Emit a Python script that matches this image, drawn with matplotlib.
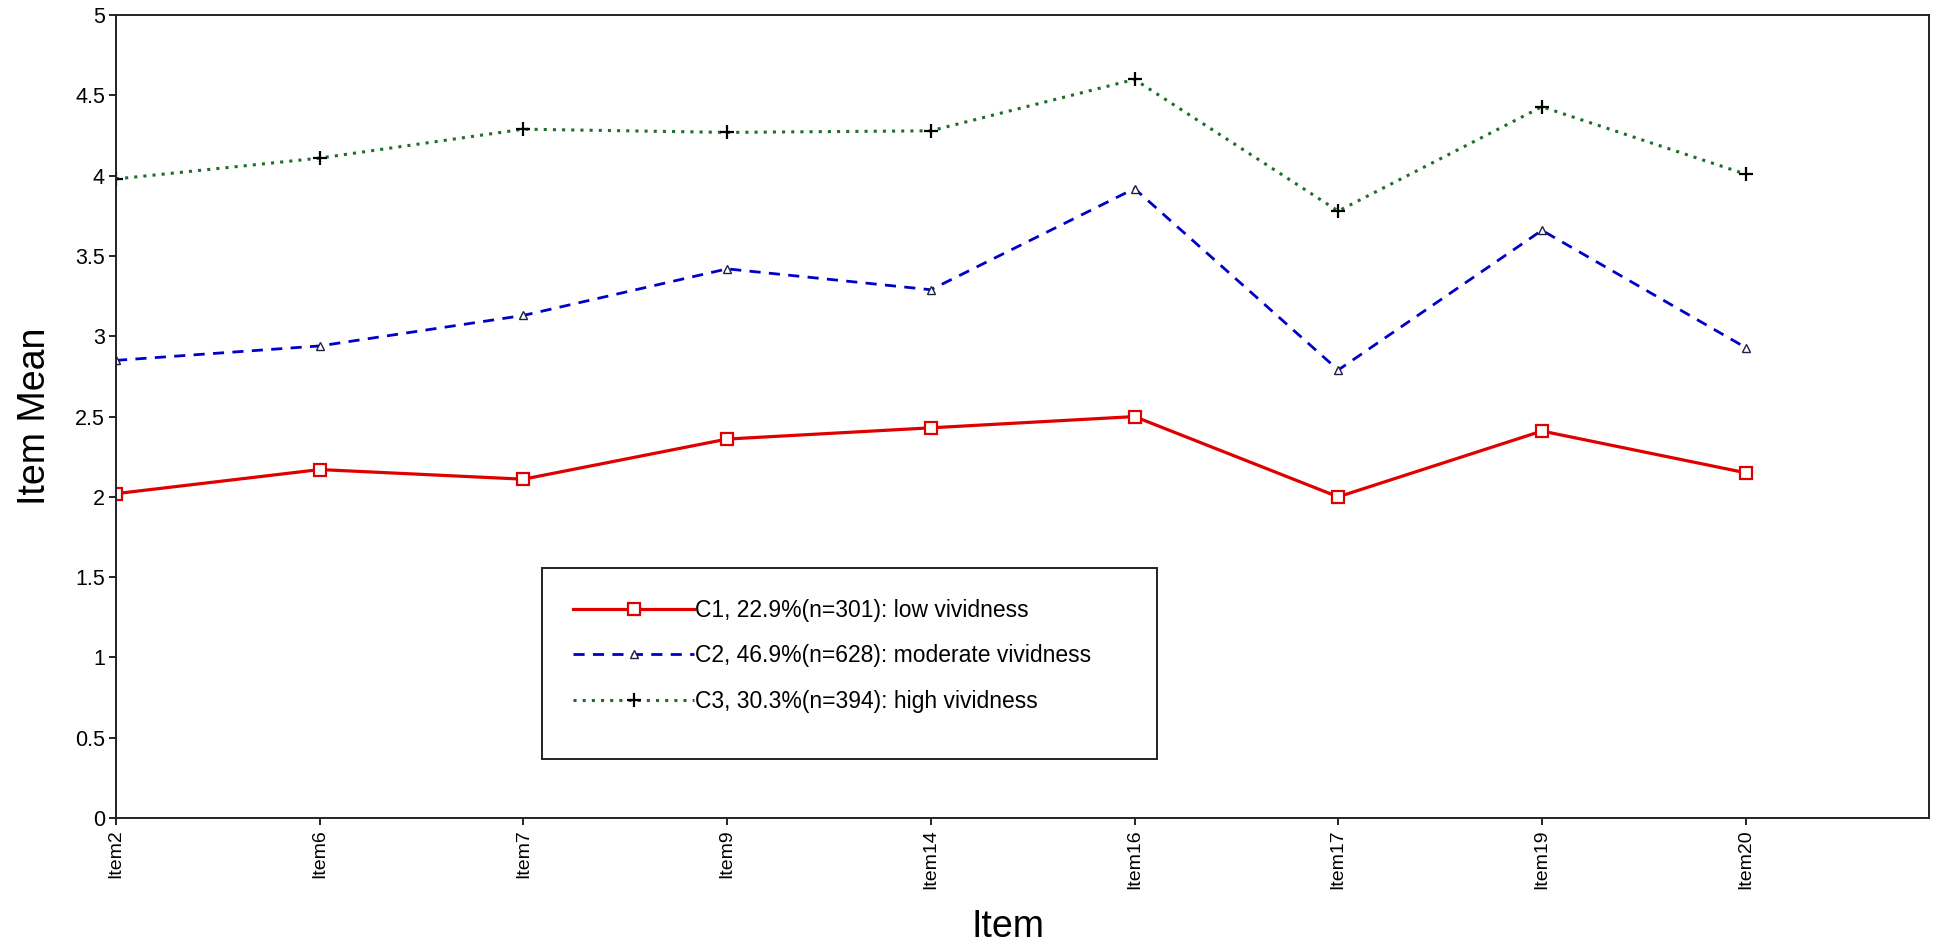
import numpy as np
import matplotlib
matplotlib.use("Agg")
from matplotlib import pyplot as plt
from matplotlib.patches import Rectangle

plt.rcParams['font.family'] = ['Liberation Sans', 'DejaVu Sans']

items = ['Item2', 'Item6', 'Item7', 'Item9', 'Item14', 'Item16', 'Item17', 'Item19', 'Item20']
c1 = [2.02, 2.17, 2.11, 2.36, 2.43, 2.50, 2.00, 2.41, 2.15]
c2 = [2.85, 2.94, 3.13, 3.42, 3.29, 3.92, 2.79, 3.66, 2.93]
c3 = [3.98, 4.11, 4.29, 4.27, 4.28, 4.60, 3.78, 4.43, 4.01]
labels = ['C1, 22.9%(n=301): low vividness',
          'C2, 46.9%(n=628): moderate vividness',
          'C3, 30.3%(n=394): high vividness']

x = np.arange(len(items))

fig = plt.figure(figsize=(19.5, 9.5), dpi=100)
ax = fig.add_axes([0.0595, 0.139, 0.9297, 0.845])

ax.plot(x, c1, color='#e00000', lw=2.3, ls='-', marker='s', ms=8,
        mfc='white', mec='#e00000', mew=1.6, label=labels[0])
ax.plot(x, c2, color='#0000c8', lw=2.0, ls=(0, (4, 3)), marker='^', ms=6,
        mfc='white', mec='#202040', mew=1.0, label=labels[1])
ax.plot(x, c3, color='#1e6e2a', lw=2.2, ls=(0, (1, 2)), marker='+', ms=10,
        mec='black', mew=1.6, label=labels[2])

ax.set_xlim(0, 8.9)
ax.set_ylim(0, 5)
ax.set_xticks(x)
ax.set_xticklabels(items, rotation=90, fontsize=14)
ax.set_yticks(np.arange(0, 5.01, 0.5))
ax.set_yticklabels(['0', '0.5', '1', '1.5', '2', '2.5', '3', '3.5', '4', '4.5', '5'], fontsize=15.5)
ax.tick_params(direction='out', length=5, width=1.2, colors='black', pad=3)
for s in ax.spines.values():
    s.set_linewidth(1.4)
    s.set_color('#222222')

fig.text(0.018, 0.562, 'Item Mean', rotation=90, fontsize=27, ha='center', va='center')
fig.text(0.517, 0.024, 'Item', fontsize=27, ha='center', va='center')

# legend box
ax.add_patch(Rectangle((0.235, 0.073), 0.339, 0.238, transform=ax.transAxes,
                       fill=False, edgecolor='#222222', lw=1.4, zorder=5))
leg = ax.legend(loc='upper left', bbox_to_anchor=(0.252, 0.273), frameon=False,
                fontsize=16.5, handlelength=5.3, handletextpad=0.05,
                labelspacing=0.98, borderaxespad=0, borderpad=0)

fig.savefig('out.png', dpi=100, facecolor='white')
